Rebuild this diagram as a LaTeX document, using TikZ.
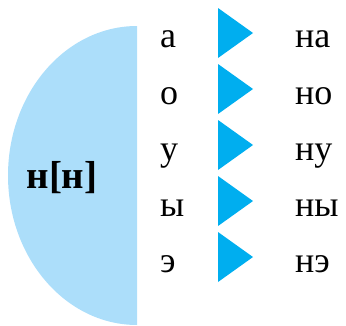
\documentclass[tikz,border=0pt]{standalone}
\usepackage{fontspec}
\setmainfont{Liberation Serif}
\definecolor{halfblue}{RGB}{172,222,250}
\definecolor{tricyan}{RGB}{0,174,239}
\usetikzlibrary{positioning}
\tikzset{
  letter/.style={anchor=base west, inner sep=0pt, font=\fontsize{36}{36}\selectfont},
  marker/.style={fill=tricyan}
}
\begin{document}
\begin{tikzpicture}[x=1pt,y=1pt]
  \useasboundingbox (0,0) rectangle (346,325);

  % half disc with the consonant
  \fill [halfblue] (137,0) arc [start angle=-90, end angle=-270, x radius=129, y radius=149.5] -- cycle;
  \node [anchor=base, inner sep=0pt, font=\fontsize{39}{39}\selectfont\bfseries] at (62,137) (cons) {н[н]};

  % vowels, markers and syllables
  \foreach \v/\s [count=\i] in {а/на,о/но,у/ну,ы/ны,э/нэ} {
    \pgfmathsetmacro{\yc}{292-56*(\i-1)}
    \node [letter] at (160,\yc-15) (vow\i) {\v};
    \fill [marker] (218,\yc+25) -- (253,\yc) -- (218,\yc-25) -- cycle;
    \node [letter] at (295,\yc-15) (syl\i) {\s};
  }
\end{tikzpicture}
\end{document}
